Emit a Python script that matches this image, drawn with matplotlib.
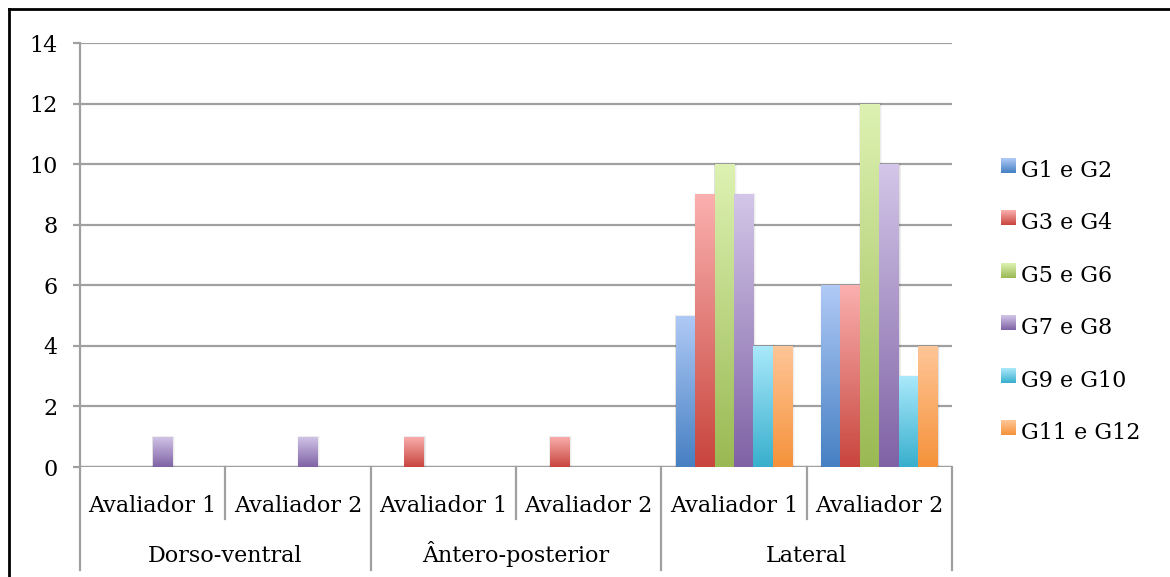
import numpy as np
import matplotlib
matplotlib.use("Agg")
import matplotlib.pyplot as plt
from matplotlib.colors import LinearSegmentedColormap
from matplotlib.patches import Rectangle
from matplotlib.lines import Line2D

# ---- data ----
groups = ["Dorso-ventral", "Ântero-posterior", "Lateral"]
evaluators = ["Avaliador 1", "Avaliador 2"]
series_names = ["G1 e G2", "G3 e G4", "G5 e G6", "G7 e G8", "G9 e G10", "G11 e G12"]
g1_g2 = [0, 0, 0, 0, 5, 6]
g3_g4 = [0, 0, 1, 1, 9, 6]
g5_g6 = [0, 0, 0, 0, 10, 12]
g7_g8 = [1, 1, 0, 0, 9, 10]
g9_g10 = [0, 0, 0, 0, 4, 3]
g11_g12 = [0, 0, 0, 0, 4, 4]
series_values = [g1_g2, g3_g4, g5_g6, g7_g8, g9_g10, g11_g12]
y_ticks = [0, 2, 4, 6, 8, 10, 12, 14]

# light (top) / dark (bottom) colour of each series gradient
grad_colors = [
    ("#B0CAF6", "#4680C3"),
    ("#FAB0AF", "#C8453D"),
    ("#DDF2B2", "#9AB953"),
    ("#D3C6E8", "#7F62A5"),
    ("#AAE9FB", "#38AFCD"),
    ("#FFC698", "#F5923A"),
]

W, H = 1170, 577
plt.rcParams["font.family"] = ["DejaVu Serif"]
FS = 16
fig = plt.figure(figsize=(W / 100, H / 100), dpi=100)


def fx(px):
    return px / W


def fy(py):
    return 1 - py / H


ax = fig.add_axes([fx(80), fy(467), fx(952) - fx(80), fy(43) - fy(467)])
ax.set_xlim(-0.5, 5.5)
ax.set_ylim(0, 14)

grid_color = "#A0A0A0"
ax.set_yticks(y_ticks)
ax.yaxis.grid(True, color=grid_color, linewidth=1.6, zorder=0)
ax.set_axisbelow(True)
ax.tick_params(axis="y", length=5, width=1.6, color=grid_color, pad=11,
               labelsize=FS)
ax.set_xticks([])
for s in ["top", "right", "bottom"]:
    ax.spines[s].set_visible(False)
ax.spines["left"].set_color(grid_color)
ax.spines["left"].set_linewidth(1.6)
ax.axhline(0, color=grid_color, linewidth=1.6, zorder=1)

n = len(series_values)
bw = 0.134
x = np.arange(len(g1_g2))
grad = np.linspace(1, 0, 256).reshape(-1, 1)

for k, (vals, (c_top, c_bot)) in enumerate(zip(series_values, grad_colors)):
    cmap = LinearSegmentedColormap.from_list(f"s{k}", [c_bot, c_top])
    bars = ax.bar(x + (k - (n - 1) / 2) * bw, vals, width=bw,
                  facecolor="none", edgecolor="none", zorder=3)
    for b in bars:
        h = b.get_height()
        if h <= 0:
            continue
        x0, w = b.get_x(), b.get_width()
        # soft drop shadow
        for i, a in enumerate([0.05, 0.04, 0.03]):
            d = (i + 1) * 0.0045
            ax.add_patch(Rectangle((x0 - d * 0.3, -0.02), w + d * 1.6, h + d * 4,
                                   facecolor="#000000", alpha=a,
                                   edgecolor="none", zorder=2))
        im = ax.imshow(grad, cmap=cmap, aspect="auto",
                       extent=(x0, x0 + w, 0, h), zorder=4,
                       interpolation="bicubic")
        im.set_clip_path(b)

ax.set_xlim(-0.5, 5.5)
ax.set_ylim(0, 14)

# ---- overlay in pixel coordinates: category axis, legend, frame ----
ov = fig.add_axes([0, 0, 1, 1], zorder=10)
ov.set_xlim(0, W)
ov.set_ylim(H, 0)
ov.axis("off")
ov.patch.set_alpha(0)

slot_px = (952 - 80) / 6
for i in range(7):
    xp = 80 + i * slot_px
    y_end = 570 if i % 2 == 0 else 519
    ov.add_line(Line2D([xp, xp], [467, y_end], color=grid_color, linewidth=1.6))
for i in range(6):
    xc = 80 + (i + 0.5) * slot_px
    ov.text(xc, 512, evaluators[i % 2], ha="center", va="baseline", fontsize=FS)
for g, name in enumerate(groups):
    xc = 80 + (2 * g + 1) * slot_px
    ov.text(xc, 562, name, ha="center", va="baseline", fontsize=FS)

# legend
leg_y0, leg_dy = 177, 52.4
for k, (name, (c_top, c_bot)) in enumerate(zip(series_names, grad_colors)):
    yb = leg_y0 + k * leg_dy
    cmap = LinearSegmentedColormap.from_list(f"l{k}", [c_top, c_bot])
    ov.imshow(np.linspace(0, 1, 64).reshape(-1, 1), cmap=cmap, aspect="auto",
              extent=(1001, 1016, yb - 4, yb - 19), zorder=5)
    ov.text(1021, yb, name, ha="left", va="baseline", fontsize=FS)

ov.set_xlim(0, W)
ov.set_ylim(H, 0)

# chart frame
ov.add_line(Line2D([8.5, 8.5], [8.5, H + 5], color="black", linewidth=2))
ov.add_line(Line2D([8.5, W + 5], [8.5, 8.5], color="black", linewidth=2))

fig.savefig("out.png", dpi=100)
